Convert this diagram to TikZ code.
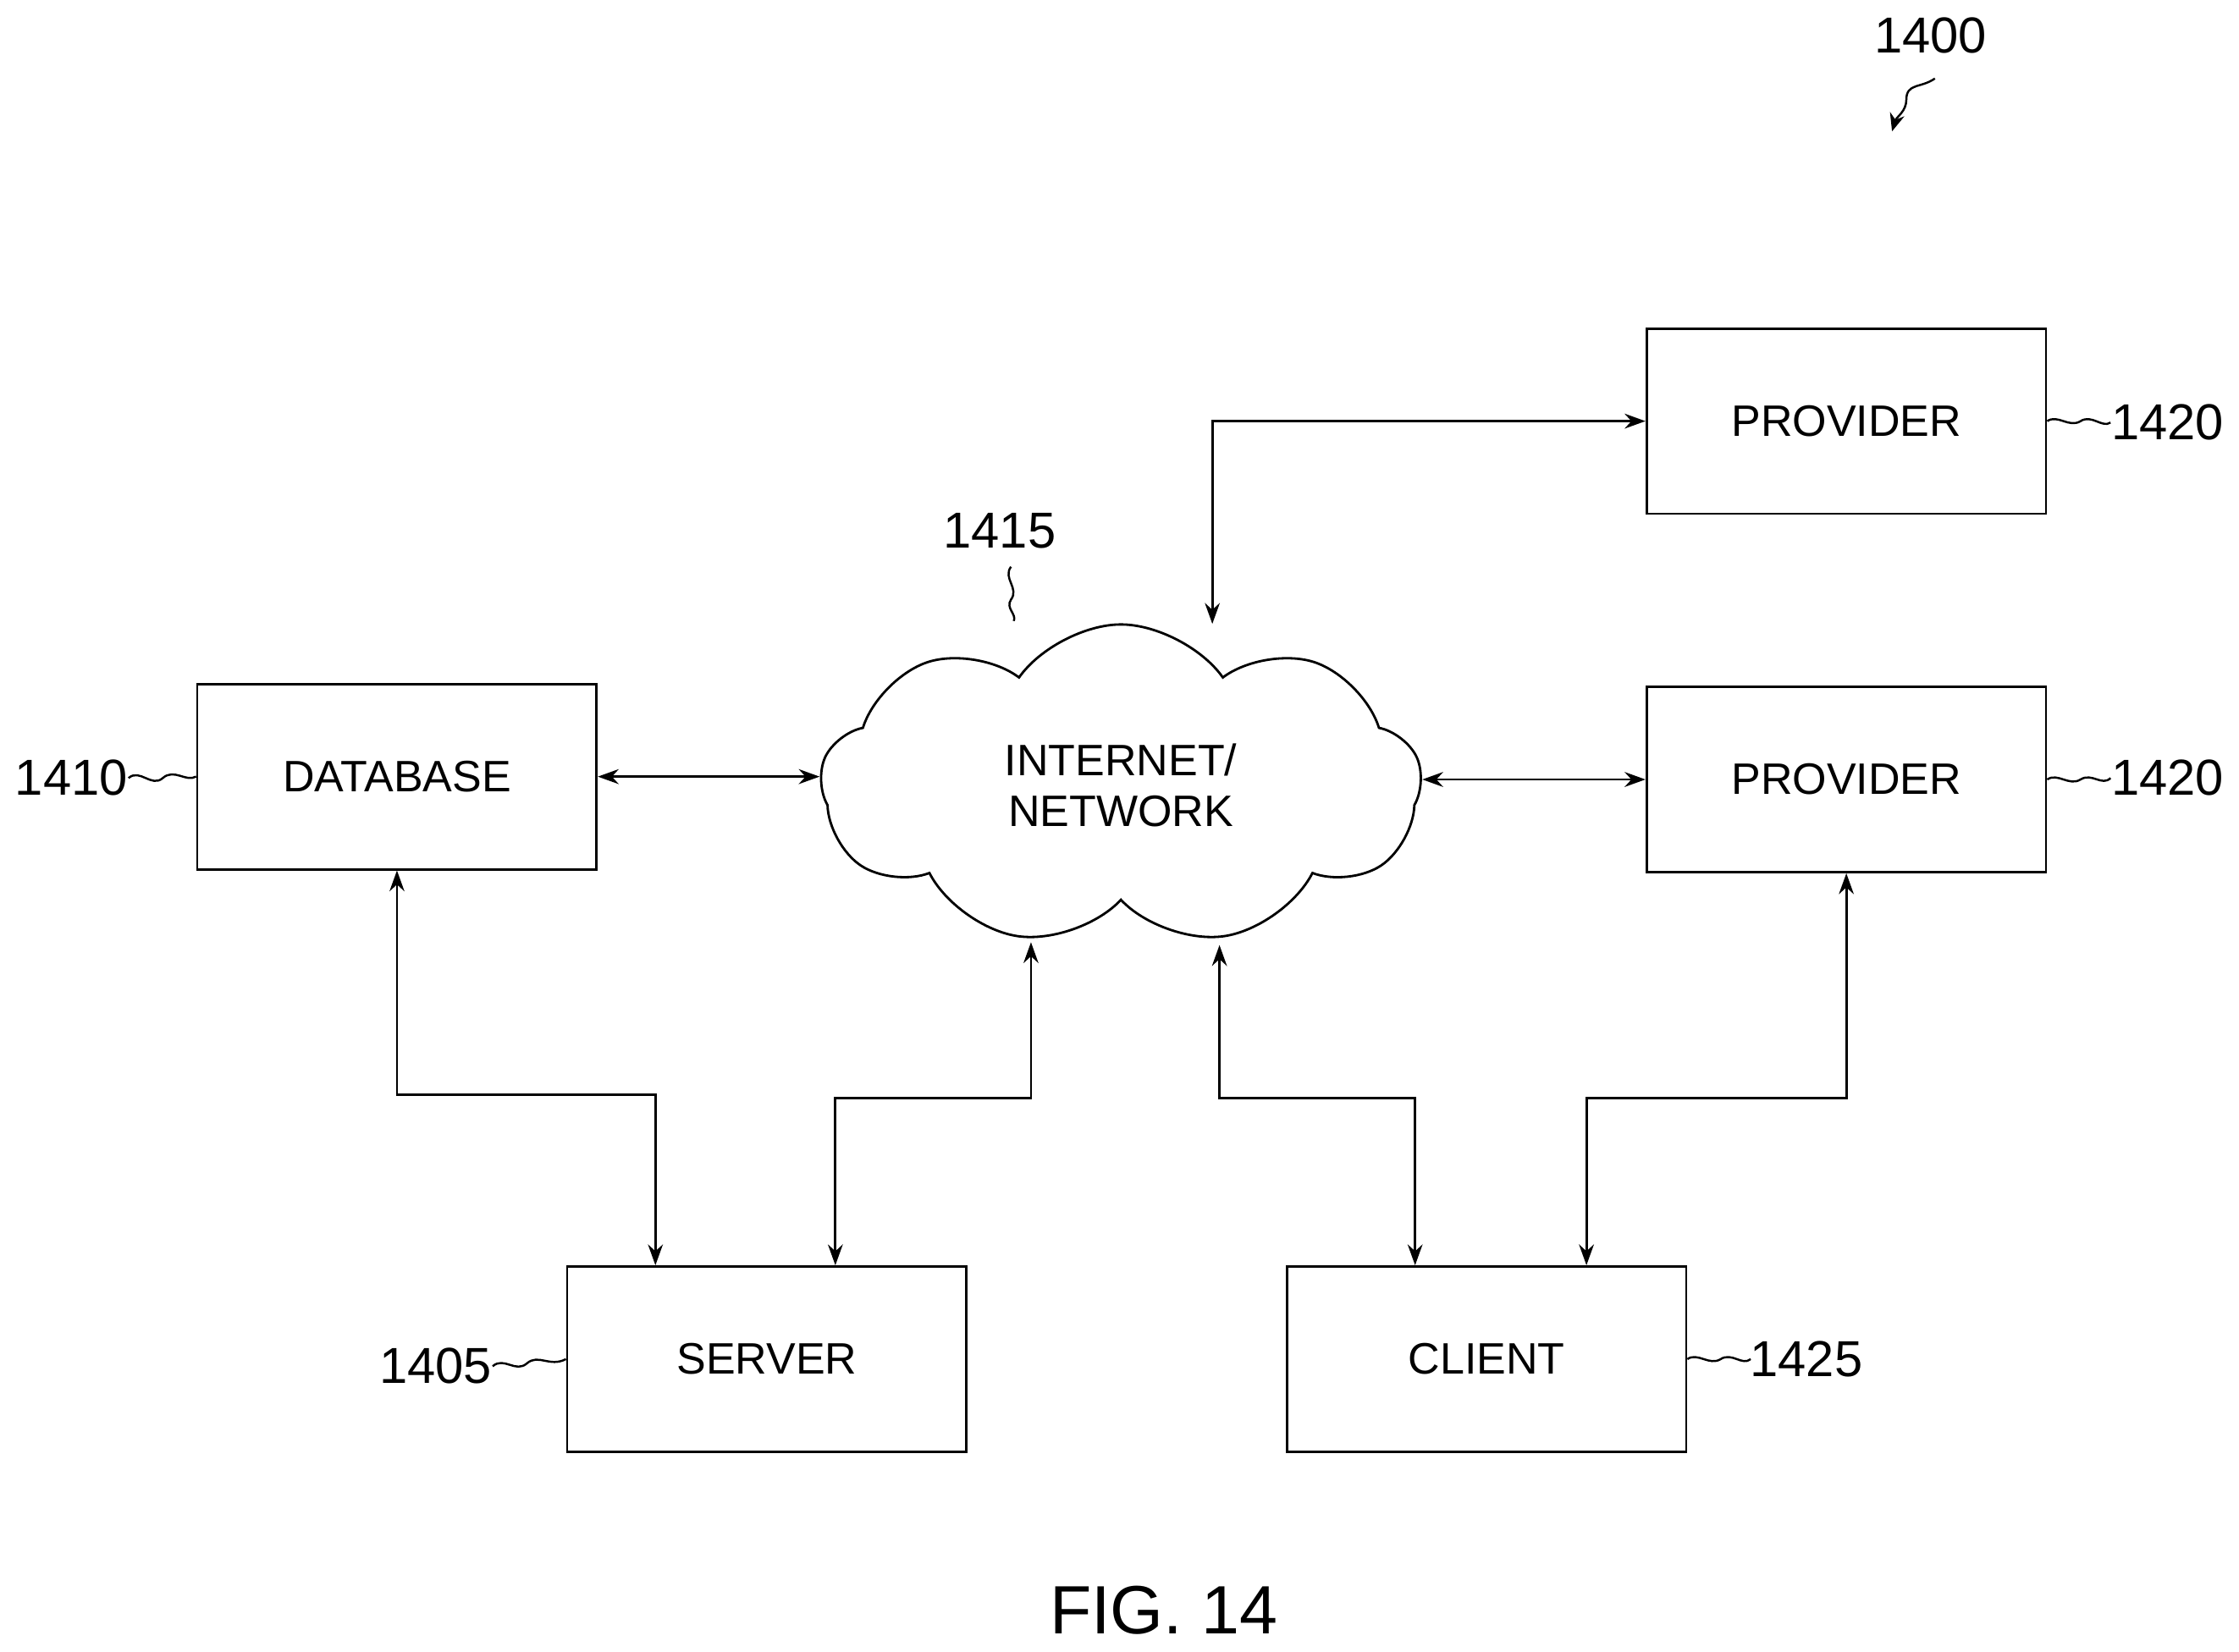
\documentclass[tikz,border=0pt]{standalone}
\usepackage{fontspec}
\setmainfont{Liberation Sans}
\usetikzlibrary{shapes.symbols,arrows.meta}
\begin{document}
\begin{tikzpicture}[x=0.01687cm,y=-0.01687cm,line width=0.8pt,
  box/.style={draw,minimum width=4.72cm,minimum height=2.19cm,inner sep=0pt,font=\fontsize{14.8}{17}\selectfont},
  lab/.style={font=\fontsize{17}{20}\selectfont,inner sep=1pt},
  conn/.style={{Stealth[length=7pt,width=5pt]}-{Stealth[length=7pt,width=5pt]}},
  sq/.style={line width=0.7pt}]
\useasboundingbox (0,0) rectangle (1568,1157);
\node[box] (db) at (278,544) {DATABASE};
\node[box] (srv) at (537,952) {SERVER};
\node[box] (cli) at (1041,952) {CLIENT};
\node[box] (p1) at (1293,295) {PROVIDER};
\node[box] (p2) at (1293,546) {PROVIDER};
\node[draw,cloud,cloud puffs=9,cloud puff arc=110,aspect=1.83,minimum width=7.1cm,minimum height=3.8cm,inner sep=0pt,align=center,font=\fontsize{14.8}{17}\selectfont] (net) at (785,550) {INTERNET/\\NETWORK};
\coordinate (nt) at (849,437);
\coordinate (nb1) at (722,660);
\coordinate (nb2) at (854,662);
\draw[conn] (db.east) -- (db.east -| net.west);
\draw[conn] (p2.west -| net.east) -- (p2.west);
\draw[conn] (nt) |- (p1.west);
\draw[conn] (db.south) |- (459,767) -- (srv.north -| 459,0);
\draw[conn] (srv.north -| 585,0) |- (722,769) -- (nb1);
\draw[conn] (nb2) |- (991,769) -- (cli.north -| 991,0);
\draw[conn] (cli.north -| 1111,0) |- (1293,769) -- (p2.south);
% labels
\node[lab] (l1400) at (1352,25) {1400};
\node[lab] (l1415) at (700,372) {1415};
\node[lab] (l1410) at (50,545) {1410};
\node[lab] (l1420a) at (1518,296) {1420};
\node[lab] (l1420b) at (1518,545) {1420};
\node[lab] (l1405) at (305,957) {1405};
\node[lab] (l1425) at (1265,952) {1425};
\node[font=\fontsize{23}{26}\selectfont] (fig) at (815,1128) {FIG. 14};
\draw[sq,-{Stealth[length=6pt,width=5pt]}] (1355,55) .. controls (1345,62) and (1335,58) .. (1335,70) .. controls (1335,78) and (1328,82) .. (1325,92);
\draw[sq] (708,397) .. controls (702,405) and (714,412) .. (708,420) .. controls (704,426) and (712,430) .. (710,435);
\draw[sq] (90,545) .. controls (98,538) and (106,552) .. (114,545) .. controls (122,538) and (130,548) .. (db.west);
\draw[sq] (345,957) .. controls (353,950) and (361,962) .. (369,955) .. controls (377,948) and (385,958) .. (srv.west);
\draw[sq] (p1.east) .. controls (1441,290) and (1449,300) .. (1457,295) .. controls (1465,290) and (1472,300) .. (1478,296);
\draw[sq] (p2.east) .. controls (1441,541) and (1449,551) .. (1457,546) .. controls (1465,541) and (1472,551) .. (1478,545);
\draw[sq] (cli.east) .. controls (1189,947) and (1197,957) .. (1205,952) .. controls (1213,947) and (1220,957) .. (1226,952);
\end{tikzpicture}
\end{document}
